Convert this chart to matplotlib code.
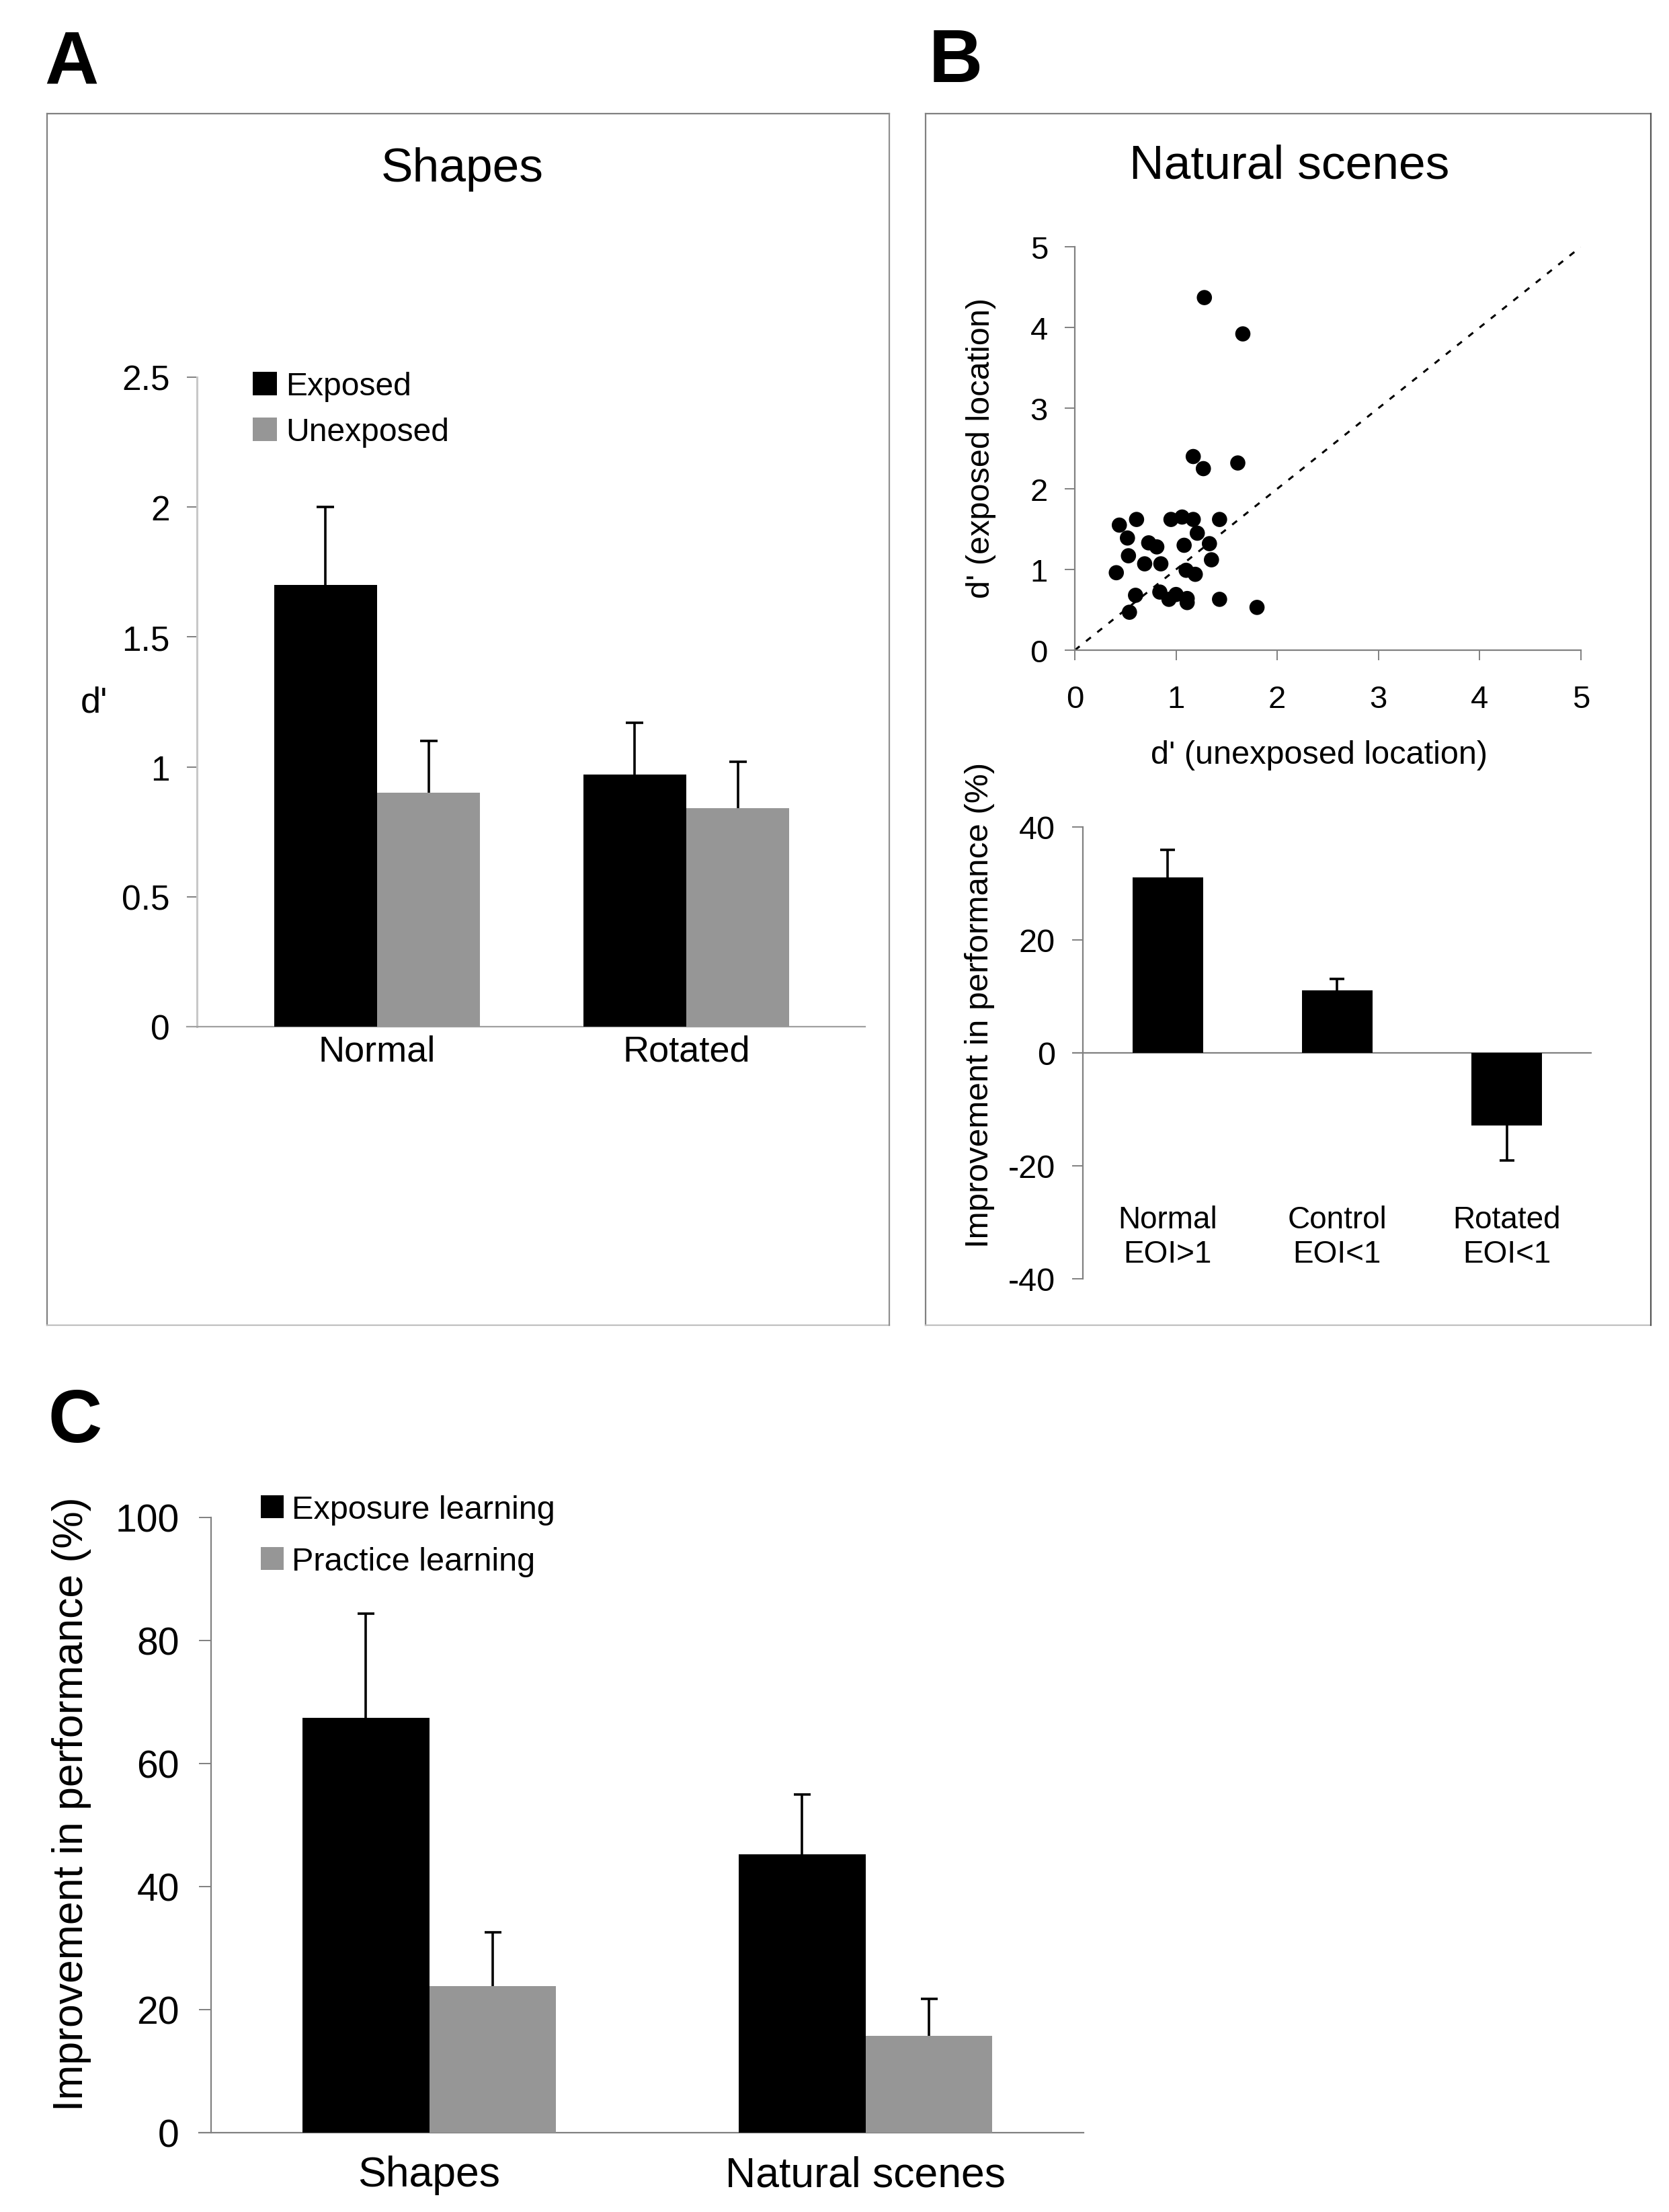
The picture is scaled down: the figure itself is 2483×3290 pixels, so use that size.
import matplotlib
matplotlib.use('Agg')
import matplotlib.pyplot as plt
import numpy as np
from matplotlib.patches import Patch
from matplotlib.lines import Line2D
import matplotlib.transforms as mtransforms

plt.rcParams['font.family'] = ['Liberation Sans', 'DejaVu Sans']

# ---------------- data ----------------
# Panel A (Shapes)
shape_conditions = ['Normal', 'Rotated']
a_exposed = [1.70, 0.97]
a_exposed_err = [0.30, 0.20]
a_unexposed = [0.90, 0.84]
a_unexposed_err = [0.20, 0.18]
a_yticks = [0, 0.5, 1, 1.5, 2, 2.5]
a_yticklabels = ['0', '0.5', '1', '1.5', '2', '2.5']

# Panel B scatter (Natural scenes)
scatter_unexposed = [1.28, 1.66, 1.17, 1.27, 1.61, 0.44, 0.61, 0.95, 1.06, 1.17,
                     1.43, 1.21, 0.52, 0.73, 0.81, 1.08, 1.33, 0.53, 0.69, 0.85,
                     1.35, 0.41, 1.10, 1.19, 0.60, 0.84, 0.93, 1.00, 1.11, 1.11,
                     1.43, 1.80, 0.54]
scatter_exposed = [4.37, 3.92, 2.40, 2.25, 2.32, 1.55, 1.62, 1.62, 1.65, 1.62,
                   1.62, 1.45, 1.39, 1.33, 1.28, 1.30, 1.32, 1.17, 1.07, 1.07,
                   1.12, 0.96, 0.99, 0.94, 0.68, 0.72, 0.63, 0.69, 0.64, 0.59,
                   0.63, 0.53, 0.47]
sc_ticks = [0, 1, 2, 3, 4, 5]

# Panel B bars
b_conditions = ['Normal\nEOI>1', 'Control\nEOI<1', 'Rotated\nEOI<1']
b_values = [31.1, 11.1, -12.9]
b_err = [4.8, 2.0, 6.1]
b_yticks = [-40, -20, 0, 20, 40]
b_yticklabels = ['-40', '-20', '0', '20', '40']

# Panel C
c_categories = ['Shapes', 'Natural scenes']
c_exposure = [67.4, 45.2]
c_exposure_err = [17.0, 9.8]
c_practice = [23.8, 15.7]
c_practice_err = [8.8, 6.1]
c_yticks = [0, 20, 40, 60, 80, 100]

# ---------------- layout helpers ----------------
W, H = 2483, 3291
fig = plt.figure(figsize=(W / 100, H / 100), dpi=100)


def rect(l, t, r, b):
    return [l / W, 1 - b / H, (r - l) / W, (b - t) / H]


def fx(x):
    return x / W


def fy(y):
    return 1 - y / H


GREY_BAR = '#969696'
AX_GREY = '#808080'
ELW = 2.6


def one_sided_err(ax, x, values, errs, capw=18.7):
    """Error bar on the outer side of each bar only, with a single cap."""
    x = np.asarray(x, float)
    v = np.asarray(values, float)
    e = np.asarray(errs, float)
    sign = np.where(v < 0, -1.0, 1.0)
    end = v + sign * e
    ax.vlines(x, v, end, color='black', lw=ELW, zorder=2)
    ax.plot(x, end, ls='none', marker='_', ms=capw, mew=ELW, color='black', zorder=2)


# ---------------- panel boxes ----------------
def box(l, t, r, b, right_col):
    kw = dict(lw=1.6, transform=fig.transFigure)
    fig.add_artist(Line2D([fx(l), fx(r)], [fy(t), fy(t)], color='#808080', **kw))
    fig.add_artist(Line2D([fx(l), fx(l)], [fy(t), fy(b)], color='#808080', **kw))
    fig.add_artist(Line2D([fx(l), fx(r)], [fy(b), fy(b)], color='#c0c0c0', **kw))
    fig.add_artist(Line2D([fx(r), fx(r)], [fy(t), fy(b)], color=right_col, **kw))


box(70, 170, 1323, 1972, '#909090')
box(1377, 170, 2456, 1972, '#555555')

# panel letters
for letter, x, y in [('A', 66, 125), ('B', 1382, 122), ('C', 72, 2145)]:
    fig.text(fx(x), fy(y), letter, fontsize=80, fontweight='bold', ha='left', va='baseline')

# ---------------- Panel A ----------------
axA = fig.add_axes(rect(278, 562, 1287, 1528))
xA = np.arange(len(shape_conditions))
wA = 0.333
axA.bar(xA - wA / 2, a_exposed, wA, color='black', label='Exposed', zorder=3)
axA.bar(xA + wA / 2, a_unexposed, wA, color=GREY_BAR, label='Unexposed', zorder=3)
one_sided_err(axA, xA - wA / 2, a_exposed, a_exposed_err)
one_sided_err(axA, xA + wA / 2, a_unexposed, a_unexposed_err)
axA.set_xlim(-0.615, 1.578)
axA.set_ylim(0, 2.5)
axA.spines['left'].set_position(('data', -0.583))
axA.spines['left'].set_color('#c8c8c8')
axA.spines['left'].set_linewidth(2.2)
axA.spines['bottom'].set_color('#a0a0a0')
axA.spines['bottom'].set_linewidth(1.6)
for s in ['top', 'right']:
    axA.spines[s].set_visible(False)
axA.set_yticks(a_yticks)
axA.set_yticklabels(a_yticklabels)
axA.set_xticks(xA)
axA.set_xticklabels(shape_conditions)
axA.tick_params(axis='y', direction='out', length=10.8, width=1.4, color=AX_GREY, labelsize=37, pad=18)
axA.tick_params(axis='x', length=0, labelsize=39, pad=8)
axA.legend(handles=[Patch(facecolor='black', edgecolor='none', label='Exposed'),
                    Patch(facecolor=GREY_BAR, edgecolor='none', label='Unexposed')],
           loc='upper left', bbox_to_anchor=(fx(376), fy(553)), bbox_transform=fig.transFigure,
           frameon=False, fontsize=34.6, handlelength=0.75, handleheight=0.75,
           handletextpad=0.27, labelspacing=0.48, borderpad=0, borderaxespad=0)
fig.text(fx(688), fy(270), 'Shapes', fontsize=51.4, ha='center', va='baseline')
fig.text(fx(160), fy(1045), "d'", fontsize=39, ha='right', va='center')

# ---------------- Panel B scatter ----------------
axS = fig.add_axes(rect(1599, 368, 2352, 968))
axS.axline((0, 0), slope=1, color='black', lw=2.2, dashes=(3, 4), zorder=2)
axS.scatter(scatter_unexposed, scatter_exposed, s=265, color='black', edgecolors='none', zorder=3, clip_on=False)
axS.set_xlim(0, 5)
axS.set_ylim(0, 5)
axS.set_xticks(sc_ticks)
axS.set_yticks(sc_ticks)
for s in ['top', 'right']:
    axS.spines[s].set_visible(False)
for s in ['left', 'bottom']:
    axS.spines[s].set_color(AX_GREY)
    axS.spines[s].set_linewidth(1.6)
axS.tick_params(axis='y', direction='out', length=10.8, width=1.4, color=AX_GREY, labelsize=34, pad=18)
axS.tick_params(axis='x', direction='out', length=10.8, width=1.4, color=AX_GREY, labelsize=34, pad=26)
fig.text(fx(1918), fy(265), 'Natural scenes', fontsize=51.4, ha='center', va='baseline')
fig.text(fx(1963), fy(1136), "d' (unexposed location)", fontsize=35, ha='center', va='baseline')
fig.text(fx(1459), fy(667), "d' (exposed location)", fontsize=35, ha='center', va='center', rotation=90)

# ---------------- Panel B bars ----------------
axB = fig.add_axes(rect(1595, 1231, 2368, 1903))
xB = np.arange(len(b_conditions))
axB.bar(xB, b_values, 0.416, color='black', zorder=3)
one_sided_err(axB, xB, b_values, b_err, capw=16.5)
axB.axhline(0, color=AX_GREY, lw=1.6, zorder=1)
axB.set_xlim(-0.563, 2.501)
axB.set_ylim(-40, 40)
axB.spines['left'].set_position(('data', -0.5))
axB.spines['left'].set_color(AX_GREY)
axB.spines['left'].set_linewidth(1.6)
for s in ['top', 'right', 'bottom']:
    axB.spines[s].set_visible(False)
axB.set_xticks([])
axB.set_yticks(b_yticks)
axB.set_yticklabels(b_yticklabels)
axB.tick_params(axis='y', direction='out', length=11.5, width=1.4, color=AX_GREY, labelsize=35, pad=18)
trB = mtransforms.blended_transform_factory(axB.transData, fig.transFigure)
for i, lab in enumerate(b_conditions):
    axB.text(xB[i], fy(1793), lab, transform=trB, ha='center', va='top', fontsize=33, linespacing=1.2)
fig.text(fx(1457), fy(1495), 'Improvement in performance (%)', fontsize=35.6,
         ha='center', va='center', rotation=90)

# ---------------- Panel C ----------------
axC = fig.add_axes(rect(296, 2258, 1612, 3173))
xC = np.arange(len(c_categories))
wC = 0.29
axC.bar(xC - wC / 2, c_exposure, wC, color='black', zorder=3)
axC.bar(xC + wC / 2, c_practice, wC, color=GREY_BAR, zorder=3)
one_sided_err(axC, xC - wC / 2, c_exposure, c_exposure_err, capw=18.0)
one_sided_err(axC, xC + wC / 2, c_practice, c_practice_err, capw=18.0)
axC.set_xlim(-0.5 - 18 / 649, 1.5)
axC.set_ylim(0, 100)
axC.spines['left'].set_position(('data', -0.5))
for s in ['left', 'bottom']:
    axC.spines[s].set_color(AX_GREY)
    axC.spines[s].set_linewidth(1.6)
for s in ['top', 'right']:
    axC.spines[s].set_visible(False)
axC.set_yticks(c_yticks)
axC.set_yticklabels([str(v) for v in c_yticks])
axC.set_xticks(xC)
axC.set_xticklabels(c_categories)
axC.tick_params(axis='y', direction='out', length=13, width=1.4, color=AX_GREY, labelsize=41, pad=21)
axC.tick_params(axis='x', length=0, labelsize=45, pad=24)
axC.legend(handles=[Patch(facecolor='black', edgecolor='none', label='Exposure learning'),
                    Patch(facecolor=GREY_BAR, edgecolor='none', label='Practice learning')],
           loc='upper left', bbox_to_anchor=(fx(388), fy(2224)), bbox_transform=fig.transFigure,
           frameon=False, fontsize=35, handlelength=0.7, handleheight=0.7,
           handletextpad=0.25, labelspacing=0.66, borderpad=0, borderaxespad=0)
fig.text(fx(107), fy(2683), 'Improvement in performance (%)', fontsize=45,
         ha='center', va='center', rotation=90)

fig.savefig('out.png', dpi=100, facecolor='white')
